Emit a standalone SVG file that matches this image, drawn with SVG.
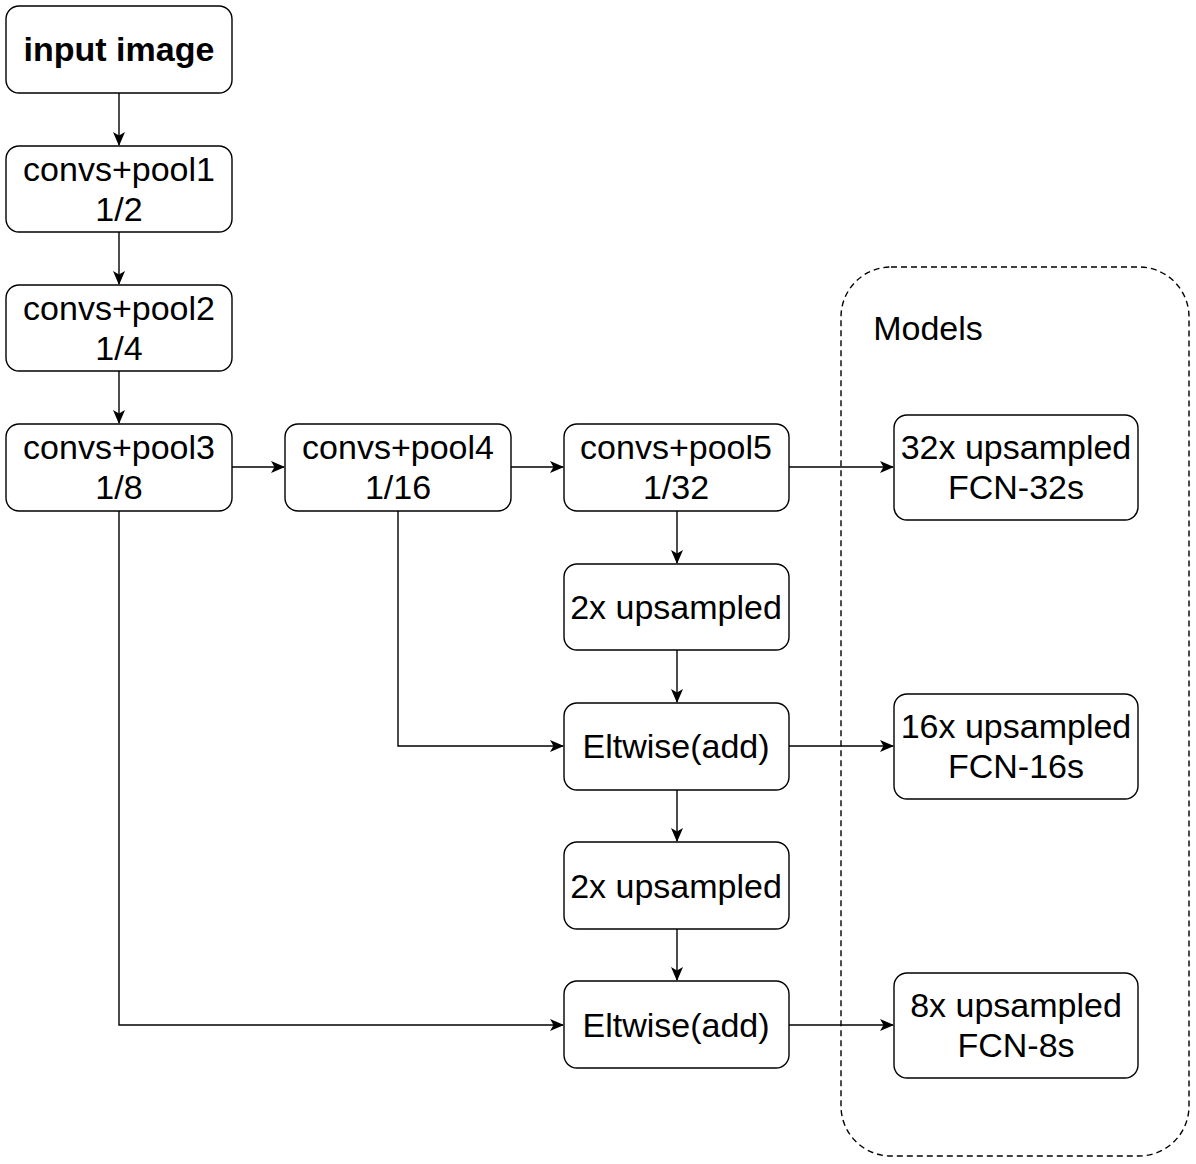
<svg xmlns="http://www.w3.org/2000/svg" width="1196" height="1164" viewBox="0 0 1196 1164">
  <style>
    .box { fill: #ffffff; stroke: #000000; stroke-width: 1.4; }
    .lbl { font-family: "Liberation Sans", Arial, sans-serif; font-size: 34px; fill: #000000; text-anchor: middle; }
    .bold { font-weight: bold; }
    .edge { fill: none; stroke: #000000; stroke-width: 1.4; marker-end: url(#arrow); }
    .group { fill: none; stroke: #000000; stroke-width: 1.4; stroke-dasharray: 6 4; }
  </style>
  <defs>
    <marker id="arrow" viewBox="0 0 14 12" refX="13" refY="6" markerWidth="14" markerHeight="12" markerUnits="userSpaceOnUse" orient="auto">
      <path d="M0,0 L14,6 L0,12 L3.5,6 Z" fill="#000000"/>
    </marker>
  </defs>
  <rect width="1196" height="1164" fill="#ffffff"/>

  <!-- Models container -->
  <g id="models">
    <rect class="group" x="841" y="267" width="348" height="889" rx="50" ry="50"/>
    <text class="lbl" x="928" y="340" font-size="30">Models</text>
  </g>

  <!-- connectors -->
  <g id="connectors">
    <path class="edge" d="M119,93 V145"/>
    <path class="edge" d="M119,232 V284"/>
    <path class="edge" d="M119,371 V423"/>
    <path class="edge" d="M232,467 H284"/>
    <path class="edge" d="M511,467 H563"/>
    <path class="edge" d="M789,467 H893"/>
    <path class="edge" d="M677,511 V563"/>
    <path class="edge" d="M677,650 V702"/>
    <path class="edge" d="M398,511 V746 H563"/>
    <path class="edge" d="M789,746 H893"/>
    <path class="edge" d="M677,790 V841"/>
    <path class="edge" d="M677,929 V980"/>
    <path class="edge" d="M119,511 V1025 H563"/>
    <path class="edge" d="M789,1025 H893"/>
  </g>

  <g id="input-image">
    <rect class="box" x="6" y="6" width="226" height="87" rx="13"/>
    <text class="lbl bold" x="119" y="61">input image</text>
  </g>
  <g id="pool1">
    <rect class="box" x="6" y="146" width="226" height="86" rx="13"/>
    <text class="lbl" x="119" y="181">convs+pool1</text>
    <text class="lbl" x="119" y="221">1/2</text>
  </g>
  <g id="pool2">
    <rect class="box" x="6" y="285" width="226" height="86" rx="13"/>
    <text class="lbl" x="119" y="320">convs+pool2</text>
    <text class="lbl" x="119" y="360">1/4</text>
  </g>
  <g id="pool3">
    <rect class="box" x="6" y="424" width="226" height="87" rx="13"/>
    <text class="lbl" x="119" y="459">convs+pool3</text>
    <text class="lbl" x="119" y="499">1/8</text>
  </g>
  <g id="pool4">
    <rect class="box" x="285" y="424" width="226" height="87" rx="13"/>
    <text class="lbl" x="398" y="459">convs+pool4</text>
    <text class="lbl" x="398" y="499">1/16</text>
  </g>
  <g id="pool5">
    <rect class="box" x="564" y="424" width="225" height="87" rx="13"/>
    <text class="lbl" x="676" y="459">convs+pool5</text>
    <text class="lbl" x="676" y="499">1/32</text>
  </g>
  <g id="up2x-a">
    <rect class="box" x="564" y="564" width="225" height="86" rx="13"/>
    <text class="lbl" x="676" y="619">2x upsampled</text>
  </g>
  <g id="eltwise-a">
    <rect class="box" x="564" y="703" width="225" height="87" rx="13"/>
    <text class="lbl" x="676" y="758">Eltwise(add)</text>
  </g>
  <g id="up2x-b">
    <rect class="box" x="564" y="842" width="225" height="87" rx="13"/>
    <text class="lbl" x="676" y="898">2x upsampled</text>
  </g>
  <g id="eltwise-b">
    <rect class="box" x="564" y="981" width="225" height="87" rx="13"/>
    <text class="lbl" x="676" y="1037">Eltwise(add)</text>
  </g>
  <g id="fcn32">
    <rect class="box" x="894" y="415" width="244" height="105" rx="13"/>
    <text class="lbl" x="1016" y="459">32x upsampled</text>
    <text class="lbl" x="1016" y="499">FCN-32s</text>
  </g>
  <g id="fcn16">
    <rect class="box" x="894" y="694" width="244" height="105" rx="13"/>
    <text class="lbl" x="1016" y="738">16x upsampled</text>
    <text class="lbl" x="1016" y="778">FCN-16s</text>
  </g>
  <g id="fcn8">
    <rect class="box" x="894" y="973" width="244" height="105" rx="13"/>
    <text class="lbl" x="1016" y="1017">8x upsampled</text>
    <text class="lbl" x="1016" y="1057">FCN-8s</text>
  </g>
</svg>
